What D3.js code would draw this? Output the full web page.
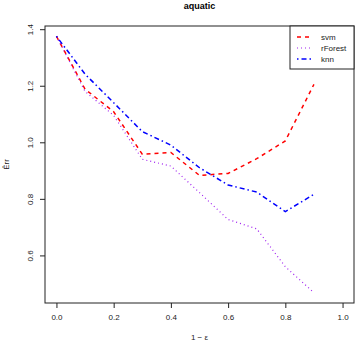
<!DOCTYPE html>
<html>
<head>
<meta charset="utf-8">
<script src="https://cdn.jsdelivr.net/npm/d3@7"></script>
<style>
  body { margin: 0; background: #fff; }
  text { font-family: "Liberation Sans", Arial, sans-serif; }
</style>
</head>
<body>
<div id="chart"></div>
<script>
'use strict';

const xValues = [0.0, 0.1, 0.2, 0.3, 0.4, 0.5, 0.6, 0.7, 0.8, 0.9];
const svm     = [1.375, 1.188, 1.108, 0.958, 0.964, 0.883, 0.890, 0.942, 1.005, 1.205];
const rForest = [1.375, 1.180, 1.095, 0.940, 0.916, 0.822, 0.727, 0.694, 0.560, 0.468];
const knn     = [1.375, 1.241, 1.140, 1.038, 0.990, 0.910, 0.849, 0.824, 0.755, 0.816];
const xTicks = [0.0, 0.2, 0.4, 0.6, 0.8, 1.0];
const yTicks = [0.6, 0.8, 1.0, 1.2, 1.4];
const seriesNames = ["svm", "rForest", "knn"];

const m = { width: 356, height: 344, left: 45, right: 354, top: 26, bottom: 303 };

const styles = {
  svm:     { color: "#ff0000", dash: "4,4", width: 1.5 },
  rForest: { color: "#a020f0", dash: "1,3", width: 1.2 },
  knn:     { color: "#0000ff", dash: "1.5,3,5,3", width: 1.5 }
};

const svg = d3.select("#chart").append("svg")
  .attr("width", m.width)
  .attr("height", m.height);

// R style 4% padding on the data range
const allY = svm.concat(rForest, knn);
const yMin = d3.min(allY), yMax = d3.max(allY);
const yPad = (yMax - yMin) * 0.04;

const xScale = d3.scaleLinear()
  .domain([-0.04, 1.04])
  .range([m.left, m.right]);

const yScale = d3.scaleLinear()
  .domain([yMin - yPad, yMax + yPad])
  .range([m.bottom, m.top]);

// x axis
const xAxis = svg.append("g")
  .attr("transform", "translate(0," + m.bottom + ")")
  .call(d3.axisBottom(xScale).tickValues(xTicks).tickFormat(d3.format(".1f")).tickSize(5).tickPadding(6));
xAxis.select(".domain").remove();
xAxis.selectAll("line").attr("stroke", "#222");
xAxis.selectAll("text").style("font-size", "8px").attr("fill", "#222");

// y axis
const yAxis = svg.append("g")
  .attr("transform", "translate(" + m.left + ",0)")
  .call(d3.axisLeft(yScale).tickValues(yTicks).tickFormat(d3.format(".1f")).tickSize(5));
yAxis.select(".domain").remove();
yAxis.selectAll("line").attr("stroke", "#222");
yAxis.selectAll("text")
  .style("font-size", "8px")
  .attr("fill", "#222")
  .attr("text-anchor", "middle")
  .attr("x", 0)
  .attr("y", 0)
  .attr("dy", 0)
  .attr("transform", "translate(-12.5,0) rotate(-90)");

// the box
svg.append("rect")
  .attr("x", m.left)
  .attr("y", m.top)
  .attr("width", m.right - m.left)
  .attr("height", m.bottom - m.top)
  .attr("fill", "none")
  .attr("stroke", "#222")
  .attr("stroke-width", 1);

// lines
const dataBy = { svm: svm, rForest: rForest, knn: knn };
const line = d3.line()
  .x((d, i) => xScale(xValues[i]))
  .y(d => yScale(d));

seriesNames.forEach(function(name) {
  svg.append("path")
    .datum(dataBy[name])
    .attr("d", line)
    .attr("fill", "none")
    .attr("stroke", styles[name].color)
    .attr("stroke-width", styles[name].width)
    .attr("stroke-dasharray", styles[name].dash);
});

// title and labels
svg.append("text")
  .attr("x", (m.left + m.right) / 2)
  .attr("y", 9)
  .attr("text-anchor", "middle")
  .style("font-size", "9px")
  .style("font-weight", "bold")
  .text("aquatic");

svg.append("text")
  .attr("x", (m.left + m.right) / 2)
  .attr("y", 340)
  .attr("text-anchor", "middle")
  .style("font-size", "8px")
  .attr("fill", "#222")
  .text("1 \u2212 \u03b5");

svg.append("text")
  .attr("transform", "translate(9," + ((m.top + m.bottom) / 2) + ") rotate(-90)")
  .attr("text-anchor", "middle")
  .style("font-size", "8px")
  .attr("fill", "#222")
  .text("E\u0302rr");

// legend
const legend = svg.append("g");
legend.append("rect")
  .attr("x", 290)
  .attr("y", m.top)
  .attr("width", m.right - 290)
  .attr("height", 43)
  .attr("fill", "#fff")
  .attr("stroke", "#222");

legend.selectAll(".leg-line")
  .data(seriesNames)
  .enter()
  .append("line")
  .attr("x1", 297)
  .attr("x2", 311)
  .attr("y1", (d, i) => 37 + i * 11)
  .attr("y2", (d, i) => 37 + i * 11)
  .attr("stroke", d => styles[d].color)
  .attr("stroke-width", d => styles[d].width)
  .attr("stroke-dasharray", d => styles[d].dash);

legend.selectAll(".leg-text")
  .data(seriesNames)
  .enter()
  .append("text")
  .attr("x", 321)
  .attr("y", (d, i) => 37 + i * 11)
  .attr("dy", "0.35em")
  .style("font-size", "8px")
  .attr("fill", "#222")
  .text(d => d);
</script>
</body>
</html>
